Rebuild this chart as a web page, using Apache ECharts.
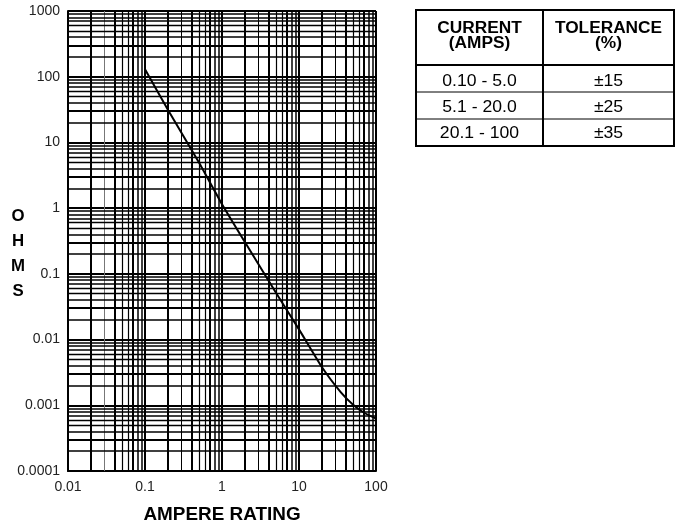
<!DOCTYPE html>
<html>
<head>
<meta charset="utf-8">
<script src="https://cdn.jsdelivr.net/npm/echarts@6/dist/echarts.min.js"></script>
<style>
  html, body { margin: 0; padding: 0; background: #fff; }
  #chart { width: 677px; height: 525px; }
</style>
</head>
<body>
<div id="chart"></div>
<script>
// Resistance vs. ampere rating (log-log)
const ampere = [0.1, 0.2, 0.5, 1, 2, 5, 10, 20, 35, 50, 70, 100];
const ohms   = [130, 31, 5.0, 1.15, 0.30, 0.052, 0.0143, 0.00375, 0.00157, 0.00103, 0.00077, 0.00063];

const xTickLabels = ['0.01', '0.1', '1', '10', '100'];
const yTickLabels = ['0.0001', '0.001', '0.01', '0.1', '1', '10', '100', '1000'];

const tableHeader = [['CURRENT', '(AMPS)'], ['TOLERANCE', '(%)']];
const tableCurrent = ['0.10 - 5.0', '5.1 - 20.0', '20.1 - 100'];
const tableTolerance = ['±15', '±25', '±35'];

const FONT = '"Liberation Sans", Arial, sans-serif';

// log-paper rulings: 2..9 within every decade
function minorRulings(minExp, maxExp) {
  const out = [];
  for (let e = minExp; e < maxExp; e++) {
    for (let m = 2; m <= 9; m++) out.push({ v: m * Math.pow(10, e), m: m });
  }
  return out;
}
const xWidth = { 2: 2, 3: 1, 4: 2, 5: 1.2, 6: 1.2, 7: 2, 8: 1.5, 9: 1.5 };
const yWidth = { 2: 1.6, 3: 2, 4: 1.6, 5: 1.4, 6: 1.4, 7: 1.6, 8: 1.6, 9: 1.6 };

const xMarks = minorRulings(-2, 2).map(r => ({
  xAxis: r.v,
  lineStyle: { width: xWidth[r.m], color: (r.m === 3 && r.v < 0.1) ? '#777' : '#000', type: 'solid' }
}));
const yMarks = minorRulings(-4, 3).map(r => ({
  yAxis: r.v,
  lineStyle: { width: yWidth[r.m], color: '#000', type: 'solid' }
}));

function tickLabel(labels, minExp) {
  return v => labels[Math.round(Math.log10(v)) - minExp] || '';
}

function txt(x, y, text, size, bold, scaleX) {
  return {
    type: 'text', x: x, y: y, scaleX: scaleX || 1, silent: true,
    style: {
      text: text, fill: '#000',
      font: (bold ? 'bold ' : '') + size + 'px ' + FONT,
      align: 'center', verticalAlign: 'middle',
      textAlign: 'center', textVerticalAlign: 'middle'
    }
  };
}
function hline(x1, x2, y, w) {
  return { type: 'line', silent: true, shape: { x1: x1, y1: y, x2: x2, y2: y }, style: { stroke: '#000', lineWidth: w } };
}
function vline(x, y1, y2, w) {
  return { type: 'line', silent: true, shape: { x1: x, y1: y1, x2: x, y2: y2 }, style: { stroke: '#000', lineWidth: w } };
}

// tolerance table
const T = { left: 416, right: 674, top: 10, head: 65, bottom: 146, mid: 543 };
const rowLines = [92, 119];
const rowCenters = [82, 107.5, 134];
const colCenters = [(T.left + T.mid) / 2, (T.mid + T.right) / 2];

const graphics = [
  { type: 'rect', silent: true, shape: { x: T.left, y: T.top, width: T.right - T.left, height: T.bottom - T.top },
    style: { fill: 'none', stroke: '#000', lineWidth: 2 } },
  vline(T.mid, T.top, T.bottom, 2),
  hline(T.left, T.right, T.head, 2)
];
rowLines.forEach(y => graphics.push(hline(T.left, T.right, y, 1)));
tableHeader.forEach((lines, c) => {
  graphics.push(txt(colCenters[c], 28.5, lines[0], 16, true, 1.08));
  graphics.push(txt(colCenters[c], 44, lines[1], 16, true, 1.08));
});
tableCurrent.forEach((t, i) => graphics.push(txt(colCenters[0], rowCenters[i], t, 16, false, 1.1)));
tableTolerance.forEach((t, i) => graphics.push(txt(colCenters[1], rowCenters[i], t, 16, false, 1.1)));

// axis titles
graphics.push(txt(222, 515, 'AMPERE RATING', 18, true, 1.05));
['O', 'H', 'M', 'S'].forEach((ch, i) => graphics.push(txt(18, 217 + i * 25, ch, 16, true, 1.05)));

const chart = echarts.init(document.getElementById('chart'), null, { renderer: 'canvas' });
chart.setOption({
  animation: false,
  backgroundColor: '#fff',
  grid: { left: 68, right: 301, top: 11, bottom: 54, containLabel: false },
  xAxis: {
    type: 'log', logBase: 10, min: 0.01, max: 100,
    axisLine: { show: true, lineStyle: { color: '#000', width: 2 } },
    axisTick: { show: false },
    axisLabel: { margin: 9, color: '#222', fontSize: 14, fontFamily: FONT, formatter: tickLabel(xTickLabels, -2) },
    splitLine: { show: true, lineStyle: { color: '#000', width: 2 } }
  },
  yAxis: {
    type: 'log', logBase: 10, min: 0.0001, max: 1000,
    axisLine: { show: true, lineStyle: { color: '#000', width: 2 } },
    axisTick: { show: false },
    axisLabel: { margin: 8, color: '#222', fontSize: 14, fontFamily: FONT, formatter: tickLabel(yTickLabels, -4) },
    splitLine: { show: true, lineStyle: { color: '#000', width: 2 } }
  },
  series: [
    {
      type: 'line', data: [], z: 1, silent: true,
      markLine: { silent: true, precision: 10, symbol: ['none', 'none'], label: { show: false }, animation: false,
        emphasis: { disabled: true }, data: xMarks.concat(yMarks) }
    },
    {
      type: 'line', z: 5, silent: true,
      data: ampere.map((a, i) => [a, ohms[i]]),
      showSymbol: false, smooth: 0.15,
      lineStyle: { color: '#000', width: 2 }
    }
  ],
  graphic: graphics
});
</script>
</body>
</html>
